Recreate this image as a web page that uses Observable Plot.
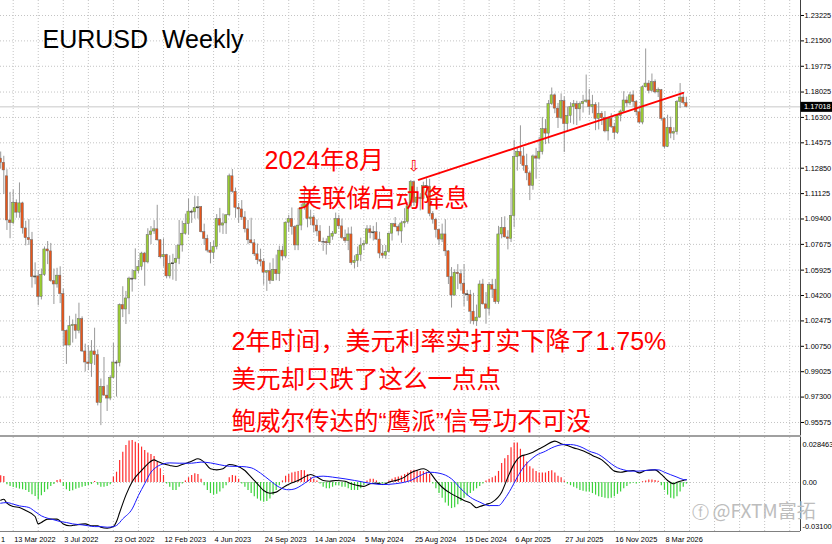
<!DOCTYPE html>
<html><head><meta charset="utf-8">
<script src="https://cdn.jsdelivr.net/npm/d3@7"></script>
<script src="https://cdn.jsdelivr.net/npm/@observablehq/plot@0.6"></script>
<style>
html,body{margin:0;padding:0;background:#fff;}
#chart{position:relative;width:832px;height:544px;overflow:hidden;background:#fff;}
#chart svg{display:block;}
</style></head><body><div id="chart"></div>
<script>
// week index 0 = week of 13 Mar 2022; first bar = week of 13 Feb 2022
const firstWeek = -4;
const open = [
1.1350,1.1322,1.1230,1.0930,1.0912,1.1050,1.0983,1.1046,1.0876,1.0810,
1.0796,1.0545,1.0550,1.0410,1.0560,1.0733,1.0720,1.0518,1.0495,1.0555,
1.0430,1.0180,1.0080,1.0212,1.0220,1.0180,1.0260,1.0040,0.9965,0.9955,
1.0040,1.0015,0.9690,0.9800,0.9740,0.9720,0.9860,0.9965,0.9960,1.0355,
1.0325,1.0400,1.0535,1.0530,1.0585,1.0615,1.0705,1.0645,1.0830,1.0855,
1.0870,1.0795,1.0680,1.0695,1.0550,1.0635,1.0640,1.0670,1.0760,1.0840,
1.0905,1.0990,1.0985,1.1015,1.1020,1.0850,1.0805,1.0725,1.0710,1.0750,
1.0940,1.0895,1.0910,1.0965,1.1230,1.1125,1.1015,1.1005,1.0950,1.0870,
1.0795,1.0775,1.0700,1.0660,1.0650,1.0575,1.0585,1.0520,1.0595,1.0565,
1.0725,1.0685,1.0915,1.0940,1.0885,1.0760,1.0895,1.1015,1.1040,1.0940,
1.0950,1.0895,1.0855,1.0785,1.0785,1.0775,1.0820,1.0840,1.0940,1.0890,
1.0810,1.0790,1.0835,1.0640,1.0655,1.0695,1.0760,1.0770,1.0870,1.0845,
1.0850,1.0800,1.0705,1.0690,1.0715,1.0840,1.0905,1.0885,1.0855,1.0910,
1.0920,1.1025,1.1190,1.1050,1.1085,1.1075,1.1165,1.1160,1.0975,1.0935,
1.0865,1.0800,1.0835,1.0720,1.0545,1.0420,1.0575,1.0565,1.0500,1.0430,
1.0425,1.0310,1.0245,1.0270,1.0495,1.0360,1.0330,1.0490,1.0460,1.0375,
1.0835,1.0880,1.0815,1.0805,1.0960,1.1360,1.1395,1.1365,1.1300,1.1250,
1.1165,1.1365,1.1350,1.1395,1.1550,1.1520,1.1720,1.1780,1.1690,1.1625,
1.1740,1.1585,1.1640,1.1700,1.1720,1.1685,1.1720,1.1735,1.1745,1.1700,
1.1715,1.1620,1.1655,1.1625,1.1535,1.1620,1.1565,1.1525,1.1640,1.1670,
1.1745,1.1725,1.1780,1.1735,1.1665,1.1595,1.1835,1.1860,1.1810,1.1870,
1.1800,1.1815,1.1620,1.1430,1.1560,1.1520,1.1530,1.1735,1.1765,1.1728];
const high = [
1.1395,1.1366,1.1275,1.1121,1.1137,1.1070,1.1185,1.1054,1.0924,1.0936,
1.0849,1.0642,1.0590,1.0600,1.0750,1.0787,1.0774,1.0600,1.0605,1.0615,
1.0464,1.0186,1.0279,1.0254,1.0293,1.0368,1.0275,1.0090,1.0080,1.0114,
1.0198,1.0050,0.9853,0.9999,0.9810,0.9875,1.0094,0.9977,1.0363,1.0480,
1.0448,1.0545,1.0595,1.0737,1.0658,1.0714,1.0713,1.0874,1.0888,1.0929,
1.1033,1.0800,1.0805,1.0700,1.0690,1.0700,1.0760,1.0930,1.0925,1.0973,
1.1075,1.1000,1.1095,1.1092,1.1025,1.0905,1.0830,1.0780,1.0790,1.0970,
1.1012,1.0975,1.0970,1.1245,1.1276,1.1150,1.1045,1.1065,1.0990,1.0930,
1.0945,1.0800,1.0770,1.0735,1.0670,1.0590,1.0640,1.0670,1.0695,1.0755,
1.0755,1.0920,1.0965,1.1015,1.0895,1.1010,1.1040,1.1140,1.1045,1.1000,
1.0965,1.0935,1.0895,1.0810,1.0805,1.0890,1.0855,1.0980,1.0965,1.0940,
1.0865,1.0880,1.0885,1.0690,1.0750,1.0810,1.0790,1.0895,1.0895,1.0890,
1.0915,1.0850,1.0760,1.0760,1.0845,1.0910,1.0950,1.0900,1.0925,1.1010,
1.1050,1.1202,1.1195,1.1155,1.1110,1.1190,1.1214,1.1210,1.0990,1.0945,
1.0870,1.0905,1.0935,1.0725,1.0610,1.0595,1.0630,1.0595,1.0630,1.0455,
1.0455,1.0435,1.0355,1.0520,1.0530,1.0440,1.0505,1.0530,1.0530,1.0890,
1.0950,1.0955,1.0860,1.1145,1.1475,1.1425,1.1573,1.1425,1.1380,1.1265,
1.1375,1.1420,1.1495,1.1630,1.1615,1.1745,1.1830,1.1790,1.1725,1.1790,
1.1770,1.1700,1.1730,1.1745,1.1740,1.1735,1.1780,1.1918,1.1820,1.1780,
1.1730,1.1730,1.1670,1.1670,1.1630,1.1655,1.1590,1.1650,1.1680,1.1805,
1.1770,1.1800,1.1810,1.1745,1.1690,1.1845,1.2095,1.1880,1.1925,1.1885,
1.1830,1.1820,1.1630,1.1645,1.1632,1.1560,1.1745,1.1860,1.1800,1.1767];
const low = [
1.1280,1.1106,1.0862,1.0806,1.0900,1.0945,1.0945,1.0837,1.0757,1.0760,
1.0470,1.0493,1.0350,1.0390,1.0550,1.0630,1.0510,1.0359,1.0470,1.0365,
1.0072,0.9952,1.0080,1.0097,1.0123,1.0160,1.0033,0.9900,0.9910,0.9864,
0.9945,0.9670,0.9536,0.9735,0.9632,0.9705,0.9856,0.9730,0.9935,1.0270,
1.0223,1.0290,1.0443,1.0525,1.0570,1.0590,1.0483,1.0635,1.0766,1.0835,
1.0790,1.0669,1.0613,1.0533,1.0533,1.0524,1.0516,1.0630,1.0715,1.0830,
1.0830,1.0910,1.0940,1.0940,1.0845,1.0760,1.0710,1.0635,1.0665,1.0730,
1.0845,1.0835,1.0835,1.0955,1.1115,1.0945,1.0910,1.0930,1.0845,1.0765,
1.0770,1.0685,1.0630,1.0615,1.0490,1.0448,1.0495,1.0515,1.0520,1.0515,
1.0655,1.0670,1.0850,1.0830,1.0725,1.0725,1.0860,1.1000,1.0880,1.0895,
1.0845,1.0820,1.0780,1.0720,1.0695,1.0760,1.0795,1.0835,1.0870,1.0800,
1.0775,1.0725,1.0625,1.0600,1.0610,1.0650,1.0725,1.0765,1.0805,1.0790,
1.0795,1.0670,1.0670,1.0665,1.0710,1.0790,1.0880,1.0825,1.0775,1.0880,
1.0905,1.1015,1.1025,1.1025,1.0995,1.1070,1.1080,1.0955,1.0905,1.0810,
1.0760,1.0780,1.0685,1.0495,1.0335,1.0415,1.0460,1.0450,1.0345,1.0380,
1.0225,1.0220,1.0210,1.0265,1.0355,1.0225,1.0285,1.0400,1.0360,1.0360,
1.0805,1.0810,1.0730,1.0780,1.0880,1.1265,1.1310,1.1265,1.1200,1.1065,
1.1135,1.1210,1.1345,1.1375,1.1445,1.1450,1.1710,1.1655,1.1555,1.1615,
1.1392,1.1530,1.1590,1.1580,1.1575,1.1605,1.1660,1.1725,1.1645,1.1655,
1.1540,1.1545,1.1575,1.1525,1.1470,1.1555,1.1478,1.1515,1.1600,1.1660,
1.1700,1.1710,1.1700,1.1640,1.1585,1.1580,1.1830,1.1790,1.1800,1.1790,
1.1765,1.1605,1.1415,1.1425,1.1485,1.1473,1.1510,1.1690,1.1715,1.1695];
const close = [
1.1322,1.1270,1.0930,1.0912,1.1050,1.0983,1.1046,1.0876,1.0810,1.0796,
1.0545,1.0550,1.0410,1.0560,1.0733,1.0720,1.0518,1.0495,1.0555,1.0430,
1.0180,1.0080,1.0212,1.0220,1.0180,1.0260,1.0040,0.9965,0.9955,1.0040,
1.0015,0.9690,0.9800,0.9740,0.9720,0.9860,0.9965,0.9960,1.0355,1.0325,
1.0400,1.0535,1.0530,1.0585,1.0615,1.0705,1.0645,1.0830,1.0855,1.0870,
1.0795,1.0680,1.0695,1.0550,1.0635,1.0640,1.0670,1.0760,1.0840,1.0905,
1.0990,1.0985,1.1015,1.1020,1.0850,1.0805,1.0725,1.0710,1.0750,1.0940,
1.0895,1.0910,1.0965,1.1230,1.1125,1.1015,1.1005,1.0950,1.0870,1.0795,
1.0775,1.0700,1.0660,1.0650,1.0575,1.0585,1.0520,1.0595,1.0565,1.0725,
1.0685,1.0915,1.0940,1.0885,1.0760,1.0895,1.1015,1.1040,1.0940,1.0950,
1.0895,1.0855,1.0785,1.0785,1.0775,1.0820,1.0840,1.0940,1.0890,1.0810,
1.0790,1.0835,1.0640,1.0655,1.0695,1.0760,1.0770,1.0870,1.0845,1.0850,
1.0800,1.0705,1.0690,1.0715,1.0840,1.0905,1.0885,1.0855,1.0910,1.0920,
1.1025,1.1190,1.1050,1.1085,1.1075,1.1165,1.1160,1.0975,1.0935,1.0865,
1.0800,1.0835,1.0720,1.0545,1.0420,1.0575,1.0565,1.0500,1.0430,1.0425,
1.0310,1.0245,1.0270,1.0495,1.0360,1.0330,1.0490,1.0460,1.0375,1.0835,
1.0880,1.0815,1.0805,1.0960,1.1360,1.1395,1.1365,1.1300,1.1250,1.1165,
1.1365,1.1350,1.1395,1.1550,1.1520,1.1720,1.1780,1.1690,1.1625,1.1740,
1.1585,1.1640,1.1700,1.1720,1.1685,1.1720,1.1735,1.1745,1.1700,1.1715,
1.1620,1.1655,1.1625,1.1535,1.1620,1.1565,1.1525,1.1640,1.1670,1.1745,
1.1725,1.1780,1.1735,1.1665,1.1595,1.1835,1.1860,1.1810,1.1870,1.1800,
1.1815,1.1620,1.1430,1.1560,1.1520,1.1530,1.1735,1.1765,1.1728,1.1702];

// MACD histogram, one value per weekly bar
const macdHist = [
0.0042,0.0038,-0.0015,-0.0025,-0.0032,-0.0036,-0.0042,-0.0046,-0.0051,-0.0063,
-0.0078,-0.0089,-0.0110,-0.0084,-0.0063,-0.0046,-0.0025,-0.0013,0.0013,0.0017,
-0.0025,-0.0046,-0.0057,-0.0053,-0.0042,-0.0036,-0.0030,-0.0025,-0.0019,-0.0013,
0.0006,-0.0017,-0.0030,-0.0030,-0.0025,-0.0015,0.0034,0.0065,0.0139,0.0192,
0.0234,0.0262,0.0266,0.0255,0.0245,0.0224,0.0203,0.0186,0.0177,0.0165,
0.0129,0.0087,0.0044,-0.0010,-0.0030,-0.0050,-0.0050,-0.0030,-0.0010,0.0010,
0.0030,0.0045,0.0055,0.0050,0.0020,-0.0020,-0.0050,-0.0070,-0.0080,-0.0075,
-0.0060,-0.0040,-0.0020,0.0030,0.0045,0.0040,0.0020,-0.0010,-0.0030,-0.0050,
-0.0070,-0.0090,-0.0105,-0.0118,-0.0125,-0.0120,-0.0105,-0.0080,-0.0050,-0.0020,
0.0010,0.0040,0.0050,0.0060,0.0065,0.0070,0.0076,0.0075,0.0050,0.0030,
0.0020,0.0010,-0.0010,-0.0030,-0.0040,-0.0040,-0.0030,-0.0020,-0.0020,-0.0030,
-0.0030,-0.0040,-0.0050,-0.0050,-0.0050,-0.0040,-0.0020,0.0010,0.0020,0.0020,
0.0010,-0.0010,-0.0010,-0.0005,0.0010,0.0020,0.0030,0.0035,0.0040,0.0050,
0.0060,0.0075,0.0078,0.0075,0.0070,0.0068,0.0065,0.0050,-0.0010,-0.0040,
-0.0070,-0.0100,-0.0130,-0.0150,-0.0165,-0.0160,-0.0140,-0.0120,-0.0100,-0.0085,
-0.0070,-0.0055,-0.0040,-0.0025,-0.0010,0.0010,0.0020,0.0030,0.0040,0.0070,
0.0120,0.0150,0.0170,0.0220,0.0250,0.0250,0.0210,0.0170,0.0130,0.0100,
0.0085,0.0070,0.0060,0.0060,0.0060,0.0070,0.0075,0.0060,0.0040,0.0030,
0.0010,-0.0010,-0.0020,-0.0030,-0.0040,-0.0050,-0.0055,-0.0060,-0.0060,-0.0070,
-0.0080,-0.0090,-0.0095,-0.0100,-0.0103,-0.0100,-0.0090,-0.0075,-0.0060,-0.0040,
-0.0025,-0.0010,-0.0005,-0.0010,-0.0005,0.0005,0.0010,0.0015,0.0015,0.0012,
0.0008,-0.0020,-0.0050,-0.0080,-0.0100,-0.0105,-0.0090,-0.0060,-0.0030,-0.0010];

// MACD main line (black), read at these weeks
const macdWeeks = [-4,-3,-2,0,2,4,7,8,9,11,14,16,18,20,23,25,27,28,30,32,33,34,36,38,41,43,45,46,48,50,52,54,57,59,61,63,65,67,69,71,74,76,78,80,82,84,86,89,91,93,95,97,99,101,103,106,108,110,112,114,116,118,120,123,125,127,129,131,133,135,137,140,142,144,146,148,149,151,153,156,158,160,162,164,166,168,170,173,175,177,179,181,183,185,188,190,192,194,196,198,200,202,205,207,209,211,212,214,215];
const macdLine = [-0.0112,-0.0106,-0.0131,-0.0152,-0.0158,-0.0177,-0.0215,-0.0262,-0.0253,-0.0232,-0.0232,-0.0262,-0.0274,-0.0268,-0.0262,-0.0274,-0.0274,-0.0283,-0.0289,-0.0278,-0.0247,-0.0190,-0.0080,0.0005,0.0076,0.0118,0.0143,0.0135,0.0118,0.0108,0.0101,0.0114,0.0135,0.0150,0.0129,0.0087,0.0080,0.0087,0.0114,0.0108,0.0076,0.0034,-0.0008,-0.0051,-0.0068,-0.0061,-0.0034,-0.0002,0.0013,0.0034,0.0051,0.0034,0.0013,0.0008,0.0013,0.0008,-0.0008,-0.0019,-0.0025,-0.0008,-0.0004,-0.0013,0.0002,0.0017,0.0034,0.0062,0.0078,0.0087,0.0065,0.0013,-0.0030,-0.0072,-0.0093,-0.0114,-0.0129,-0.0160,-0.0152,-0.0139,-0.0124,-0.0061,0.0034,0.0118,0.0165,0.0177,0.0192,0.0213,0.0234,0.0262,0.0245,0.0234,0.0219,0.0207,0.0192,0.0171,0.0143,0.0108,0.0072,0.0065,0.0072,0.0076,0.0061,0.0076,0.0080,0.0051,0.0013,-0.0008,0.0002,0.0013,0.0017];
// signal line (blue), read at these weeks
const signalWeeks = [-4,-2,0,2,5,7,9,11,13,15,17,19,22,24,26,28,30,32,33,35,38,40,42,44,46,48,50,53,57,60,63,66,69,73,76,79,82,85,88,90,92,94,96,99,102,106,109,112,115,118,122,125,127,130,133,136,140,143,146,149,152,155,157,159,161,163,165,167,170,172,174,176,178,180,182,184,187,189,191,193,195,197,200,204,206,208,210,212,214,215];
const signalLine = [-0.0131,-0.0127,-0.0137,-0.0148,-0.0158,-0.0184,-0.0211,-0.0226,-0.0236,-0.0247,-0.0253,-0.0262,-0.0268,-0.0274,-0.0279,-0.0279,-0.0283,-0.0279,-0.0272,-0.0230,-0.0167,-0.0082,-0.0008,0.0065,0.0101,0.0118,0.0124,0.0122,0.0122,0.0129,0.0124,0.0112,0.0103,0.0101,0.0093,0.0059,0.0013,-0.0030,-0.0046,-0.0040,-0.0019,0.0008,0.0034,0.0040,0.0034,0.0023,0.0013,0.0002,-0.0008,-0.0013,-0.0008,0.0002,0.0013,0.0044,0.0065,0.0059,0.0023,-0.0040,-0.0093,-0.0124,-0.0146,-0.0146,-0.0103,-0.0040,0.0034,0.0097,0.0139,0.0171,0.0198,0.0219,0.0234,0.0240,0.0240,0.0234,0.0219,0.0198,0.0177,0.0150,0.0118,0.0093,0.0080,0.0072,0.0072,0.0080,0.0080,0.0065,0.0049,0.0034,0.0019,0.0017];

// date labels (the first one only shows its last digit at the left edge)
const tickWeeks = [-16,0,16,32,48,64,80,96,112,128,144,160,176,192,208];
const tickLabels = ["1","13 Mar 2022","3 Jul 2022","23 Oct 2022","12 Feb 2023","4 Jun 2023","24 Sep 2023","14 Jan 2024","5 May 2024","25 Aug 2024","15 Dec 2024","6 Apr 2025","27 Jul 2025","16 Nov 2025","8 Mar 2026"];
const priceTicks = [1.23225,1.21500,1.19775,1.18025,1.16300,1.14575,1.12850,1.11125,1.09400,1.07675,1.05925,1.04200,1.02475,1.00750,0.99025,0.97300,0.95575];
const lastPrice = 1.17018;
const macdTop = 0.028463, macdBottom = -0.031;
const trendWeeks = [129.5, 214];
const trendPrices = [1.1206, 1.1797];

const xDomain = [-4.056, 251.45];
const yDomain = [0.9469, 1.24244];
const xs = Plot.scale({x: {domain: xDomain, range: [0, 800]}});

const candles = open.map((o, i) => ({n: i + firstWeek, o, h: high[i], l: low[i], c: close[i]}));
const hist = macdHist.map((v, i) => ({n: i + firstWeek, v}));
const macd = macdWeeks.map((n, i) => ({n, v: macdLine[i]}));
const sig = signalWeeks.map((n, i) => ({n, v: signalLine[i]}));
const trend = trendWeeks.map((n, i) => ({n, p: trendPrices[i]}));
const ticks = tickWeeks.map((w, i) => ({w, label: tickLabels[i]}));
const grid = d3.range(0, 252, 8);

const axisFont = "'Liberation Sans', Arial, sans-serif";
const noteFont = "'Liberation Sans', Arial, 'Noto Sans CJK SC', sans-serif";
const cjk = "'Noto Sans CJK SC', 'Noto Sans', sans-serif";
const gridStyle = {stroke: "#c4c4c4", strokeDasharray: "1,2"};
const svgStyle = `display:block;background:transparent;font-family:${axisFont};font-size:7.4px;color:#000;`;

const note = (t, dx, dy, size = 25) => Plot.text([t], {
  frameAnchor: "top-left", text: d => d, dx, dy, lineAnchor: "bottom", textAnchor: "start",
  fill: "#ff0000", fontSize: size, fontFamily: noteFont
});

const main = Plot.plot({
  width: 832, height: 435,
  marginLeft: 0, marginRight: 32, marginTop: 0, marginBottom: 0,
  style: svgStyle,
  x: {domain: xDomain, axis: null},
  y: {domain: yDomain, label: null},
  marks: [
    Plot.ruleY(priceTicks, gridStyle),
    Plot.ruleX(grid, gridStyle),
    Plot.ruleY([lastPrice], {stroke: "#c8c8c8"}),
    Plot.ruleX(candles, {x: "n", y1: "l", y2: "h", stroke: "#999999", strokeWidth: 1}),
    Plot.rect(candles, {
      x1: d => d.n - 0.38, x2: d => d.n + 0.38, y1: "o", y2: "c",
      fill: d => d.c >= d.o ? "#9acd32" : "#e8561a", stroke: "#6a6a6a", strokeWidth: 0.5
    }),
    Plot.ruleY(candles, {
      filter: d => Math.abs(d.o - d.c) < 0.0006,
      y: d => (d.o + d.c) / 2, x1: d => d.n - 0.45, x2: d => d.n + 0.45, stroke: "#444", strokeWidth: 1
    }),
    Plot.line(trend, {x: "n", y: "p", stroke: "#ff0000", strokeWidth: 1.8}),
    Plot.ruleX([xDomain[1]], {stroke: "#404040"}),
    Plot.axisY({anchor: "right", ticks: priceTicks, tickFormat: d => d.toFixed(5), tickSize: 3, tickPadding: 1, label: null, fontSize: 7.4}),
    Plot.ruleY([lastPrice], {x1: xs.invert(800.5), x2: xs.invert(832), stroke: "#000", strokeWidth: 10}),
    Plot.text([lastPrice], {x: xs.invert(800.5), y: d => d, text: d => d.toFixed(5), fill: "#fff", textAnchor: "start", dx: 3, fontSize: 7.4}),
    Plot.text(["EURUSD\u00a0\u00a0Weekly"], {
      frameAnchor: "top-left", text: d => d, dx: 42, dy: 47, lineAnchor: "bottom", textAnchor: "start",
      fontSize: 25, fontFamily: axisFont, fill: "#000"
    }),
    note("2024年8月", 264, 168),
    note("美联储启动降息", 297, 206, 24.5),
    Plot.text(["⇩"], {frameAnchor: "top-left", text: d => d, dx: 413.5, dy: 170, lineAnchor: "bottom", textAnchor: "middle", fontSize: 15, fill: "#ff0000", fontFamily: "'DejaVu Sans', sans-serif"}),
    note("2年时间，美元利率实打实下降了1.75%", 231, 349),
    note("美元却只跌了这么一点点", 231, 387, 24.5),
    note("鲍威尔传达的“鹰派”信号功不可没", 231, 429, 24.5)
  ]
});

const lower = Plot.plot({
  width: 832, height: 107,
  marginLeft: 0, marginRight: 32, marginTop: 0, marginBottom: 13,
  style: svgStyle,
  x: {domain: xDomain, axis: null},
  y: {domain: [macdBottom, macdTop], axis: null},
  marks: [
    Plot.ruleX(grid, gridStyle),
    Plot.ruleY([0], gridStyle),
    Plot.ruleX(hist, {x: "n", y1: 0, y2: "v", stroke: d => d.v >= 0 ? "#ff2a2a" : "#3cd23c", strokeWidth: 1.2}),
    Plot.line(macd, {x: "n", y: "v", stroke: "#000", strokeWidth: 1.1, curve: "monotone-x"}),
    Plot.line(sig, {x: "n", y: "v", stroke: "#1a1aff", strokeWidth: 1, curve: "monotone-x"}),
    Plot.ruleX([xDomain[1]], {stroke: "#404040"}),
    Plot.ruleY([macdBottom], {stroke: "#808080"}),
    Plot.text(ticks.filter(d => d.w >= 0), {x: "w", text: "label", frameAnchor: "bottom", dy: 10, dx: 1, textAnchor: "start", lineAnchor: "bottom", fontSize: 7.4}),
    Plot.text(ticks.filter(d => d.w < 0), {frameAnchor: "bottom-left", text: "label", dy: 10, dx: 0.5, textAnchor: "start", lineAnchor: "bottom", fontSize: 7.4}),
    Plot.text([macdTop], {frameAnchor: "top-right", text: d => String(d), dx: 2, dy: 4, textAnchor: "start", fontSize: 7.4}),
    Plot.text([0], {y: d => d, frameAnchor: "right", text: d => d.toFixed(2), dx: 2, textAnchor: "start", fontSize: 7.4}),
    Plot.text([macdBottom], {frameAnchor: "bottom-right", text: d => d.toFixed(5), dx: 2, dy: -3, textAnchor: "start", fontSize: 7.4}),
    Plot.text(["ⓕ"], {frameAnchor: "top-left", text: d => d, dx: 700, dy: 80, lineAnchor: "bottom", textAnchor: "middle", fontSize: 17, fill: "#bdbdbd", fontFamily: "'DejaVu Sans', sans-serif"}),
    Plot.text(["@FXTM富拓"], {frameAnchor: "top-left", text: d => d, dx: 712, dy: 80, lineAnchor: "bottom", textAnchor: "start", fontSize: 19, fill: "#bdbdbd", fontFamily: cjk})
  ]
});

const root = document.getElementById("chart");
root.appendChild(main);
const sep = document.createElement("div");
sep.style.cssText = "width:801px;height:2px;background:#a0a0a0;";
root.appendChild(sep);
root.appendChild(lower);
</script>
</body></html>
